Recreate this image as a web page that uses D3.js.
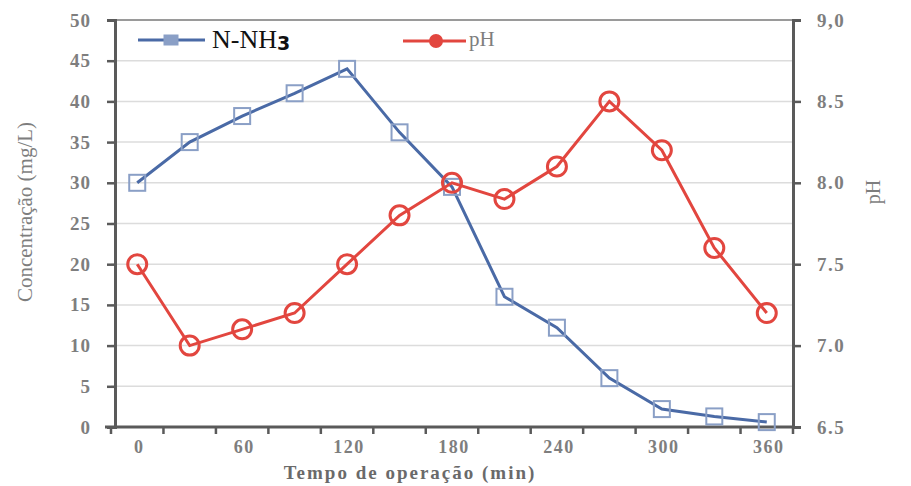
<!DOCTYPE html>
<html>
<head>
<meta charset="utf-8">
<script src="https://cdn.jsdelivr.net/npm/d3@7"></script>
<style>
  body { margin: 0; background: #fff; }
</style>
</head>
<body>
<div id="chart"></div>
<script>
const times = [0, 30, 60, 90, 120, 150, 180, 210, 240, 270, 300, 330, 360];
const nnh3 = [30, 35, 38.2, 41, 44, 36.2, 29.5, 16, 12.2, 6, 2.2, 1.3, 0.6];
const ph = [7.5, 7.0, 7.1, 7.2, 7.5, 7.8, 8.0, 7.9, 8.1, 8.5, 8.2, 7.6, 7.2];
const leftTicks = [0, 5, 10, 15, 20, 25, 30, 35, 40, 45, 50];
const rightTicks = [6.5, 7.0, 7.5, 8.0, 8.5, 9.0];
const xLabels = [0, 60, 120, 180, 240, 300, 360];

const width = 911, height = 486;
const m = { top: 20, right: 118, bottom: 59, left: 111 };
const serif = 'Liberation Serif, DejaVu Serif, serif';

const svg = d3.select('#chart').append('svg')
  .attr('width', width)
  .attr('height', height);

const x = d3.scaleBand()
  .domain(times)
  .range([m.left, width - m.right]);

const yL = d3.scaleLinear().domain([0, 50]).range([height - m.bottom, m.top]);
const yR = d3.scaleLinear().domain([6.5, 9.0]).range([height - m.bottom, m.top]);

const blue = '#4a6aa6', red = '#e2463f', axisCol = '#5a5a5a', txtCol = '#7e7e7e';

// gridlines
svg.append('g')
  .selectAll('line')
  .data(leftTicks.slice(1))
  .join('line')
    .attr('x1', m.left)
    .attr('x2', width - m.right)
    .attr('y1', d => yL(d))
    .attr('y2', d => yL(d))
    .attr('stroke', d => d === 50 ? '#9a9a9a' : '#dcdcdc')
    .attr('stroke-width', d => d === 50 ? 2 : 1.5);

// left axis
const leftAxis = svg.append('g')
  .attr('transform', `translate(${m.left + 4},0)`)
  .call(d3.axisLeft(yL).tickValues(leftTicks).tickSize(8).tickPadding(16));
leftAxis.attr('font-family', serif);
leftAxis.select('.domain').attr('stroke', axisCol).attr('stroke-width', 3);
leftAxis.selectAll('.tick line').attr('stroke', axisCol).attr('stroke-width', 2.5);
leftAxis.selectAll('.tick text')
  .attr('fill', txtCol).attr('font-size', 19).attr('font-weight', 'bold')
  .attr('letter-spacing', 1);

// right axis
const rightAxis = svg.append('g')
  .attr('transform', `translate(${width - m.right},0)`)
  .call(d3.axisRight(yR).tickValues(rightTicks).tickSize(8).tickPadding(16)
    .tickFormat(d => d === 9 ? '9,0' : d3.format('.1f')(d)));
rightAxis.attr('font-family', serif);
rightAxis.select('.domain').attr('stroke', axisCol).attr('stroke-width', 3);
rightAxis.selectAll('.tick line').attr('stroke', axisCol).attr('stroke-width', 2.5);
rightAxis.selectAll('.tick text')
  .attr('fill', txtCol).attr('font-size', 19).attr('font-weight', 'bold')
  .attr('letter-spacing', 1.5);

// bottom axis (ticks between categories)
const bw = x.bandwidth();
const bottomY = height - m.bottom;
svg.append('line')
  .attr('x1', m.left - 6).attr('x2', width - m.right)
  .attr('y1', bottomY).attr('y2', bottomY)
  .attr('stroke', axisCol).attr('stroke-width', 3);
svg.append('g')
  .selectAll('line')
  .data(times.concat([null]))
  .join('line')
    .attr('x1', (d, i) => m.left + i * bw)
    .attr('x2', (d, i) => m.left + i * bw)
    .attr('y1', bottomY)
    .attr('y2', bottomY + 7)
    .attr('stroke', axisCol).attr('stroke-width', 2.5);
svg.append('g')
  .attr('font-family', serif)
  .selectAll('text')
  .data(xLabels)
  .join('text')
    .attr('x', d => x(d) + bw / 2 + 2)
    .attr('y', bottomY + 26)
    .attr('text-anchor', 'middle')
    .attr('fill', txtCol)
    .attr('font-size', 18)
    .attr('font-weight', 'bold')
    .attr('letter-spacing', 1.5)
    .text(d => d);

// axis titles
svg.append('text')
  .attr('transform', `translate(32,212) rotate(-90)`)
  .attr('text-anchor', 'middle')
  .attr('font-family', serif)
  .attr('fill', txtCol)
  .attr('font-size', 21)
  .text('Concentração (mg/L)');

svg.append('text')
  .attr('transform', `translate(880,192) rotate(-90)`)
  .attr('text-anchor', 'middle')
  .attr('font-family', serif)
  .attr('fill', txtCol)
  .attr('font-size', 20)
  .text('pH');

svg.append('text')
  .attr('x', 410)
  .attr('y', 479)
  .attr('text-anchor', 'middle')
  .attr('font-family', serif)
  .attr('fill', '#6a6a6a')
  .attr('font-size', 19)
  .attr('font-weight', 'bold')
  .attr('letter-spacing', 2)
  .text('Tempo de operação (min)');

// lines
const cx = d => x(d) + bw / 2;

svg.append('path')
  .datum(times)
  .attr('fill', 'none')
  .attr('stroke', blue)
  .attr('stroke-width', 3)
  .attr('d', d3.line().x(d => cx(d)).y((d, i) => yL(nnh3[i])));

svg.append('g')
  .selectAll('rect')
  .data(times)
  .join('rect')
    .attr('x', d => cx(d) - 8)
    .attr('y', (d, i) => yL(nnh3[i]) - 8)
    .attr('width', 16)
    .attr('height', 16)
    .attr('fill', 'none')
    .attr('stroke', '#8a9fc6')
    .attr('stroke-width', 2);

svg.append('path')
  .datum(times)
  .attr('fill', 'none')
  .attr('stroke', red)
  .attr('stroke-width', 3)
  .attr('d', d3.line().x(d => cx(d)).y((d, i) => yR(ph[i])));

svg.append('g')
  .selectAll('circle')
  .data(times)
  .join('circle')
    .attr('cx', d => cx(d))
    .attr('cy', (d, i) => yR(ph[i]))
    .attr('r', 9.5)
    .attr('fill', 'none')
    .attr('stroke', red)
    .attr('stroke-width', 3);

// legend
const lg = svg.append('g');
lg.append('line')
  .attr('x1', 138).attr('x2', 205).attr('y1', 40).attr('y2', 40)
  .attr('stroke', blue).attr('stroke-width', 3);
lg.append('rect')
  .attr('x', 164).attr('y', 35).attr('width', 14).attr('height', 10)
  .attr('fill', '#8a9fc6').attr('stroke', '#8a9fc6').attr('stroke-width', 1);
const t1 = lg.append('text')
  .attr('x', 212).attr('y', 48)
  .attr('font-family', serif)
  .attr('fill', '#111')
  .attr('font-size', 26);
t1.append('tspan').text('N-NH');
t1.append('tspan').attr('dy', 2).attr('font-size', 19)
  .attr('font-family', 'DejaVu Sans, sans-serif').attr('font-weight', 'bold').text('3');

lg.append('line')
  .attr('x1', 403).attr('x2', 466).attr('y1', 41).attr('y2', 41)
  .attr('stroke', red).attr('stroke-width', 3);
lg.append('circle')
  .attr('cx', 436).attr('cy', 41).attr('r', 6)
  .attr('fill', red).attr('stroke', red).attr('stroke-width', 2);
lg.append('text')
  .attr('x', 469).attr('y', 46)
  .attr('font-family', serif)
  .attr('fill', txtCol)
  .attr('font-size', 21)
  .text('pH');
</script>
</body>
</html>
